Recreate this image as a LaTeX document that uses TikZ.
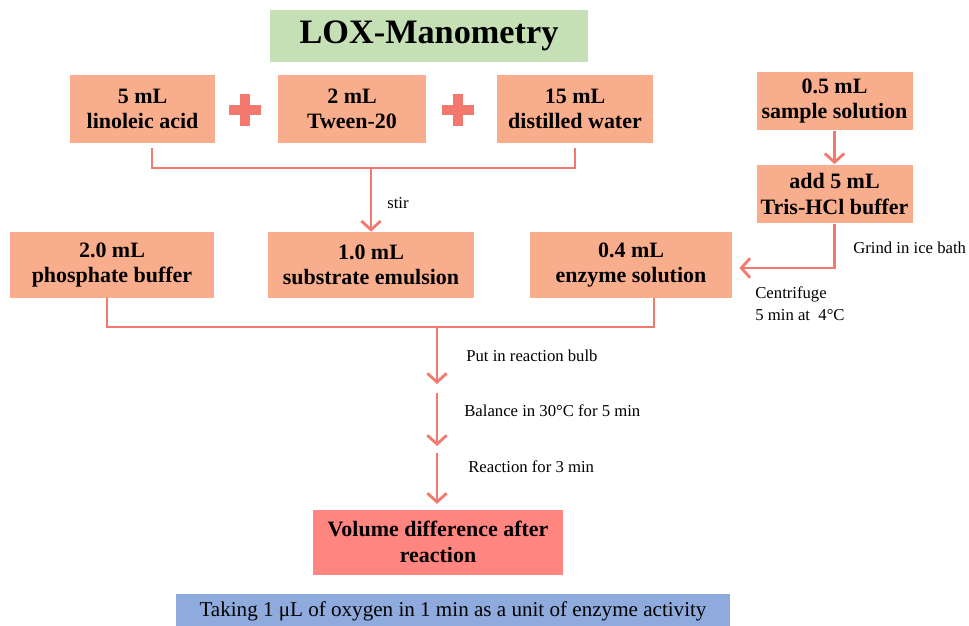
\documentclass[tikz,border=0pt]{standalone}
\usepackage{fontspec}
\setmainfont{Liberation Serif}
\usetikzlibrary{arrows.meta}
\definecolor{boxfill}{RGB}{248,173,140}
\definecolor{flowline}{RGB}{243,121,110}
\definecolor{titlegreen}{RGB}{197,224,180}
\definecolor{resultred}{RGB}{255,134,128}
\definecolor{noteblue}{RGB}{143,170,220}

\begin{document}
\begin{tikzpicture}[x=0.02cm,y=-0.02cm,>={Straight Barb[length=5pt,width=11pt]},
	stepbox/.style={fill=boxfill,align=center,inner sep=0pt,font=\fontsize{12.5}{14.5}\selectfont\bfseries},
	flow/.style={draw=flowline,line width=1.6pt},
	steplabel/.style={anchor=west,inner sep=0pt,font=\fontsize{9.5}{13}\selectfont}]
		\useasboundingbox (0,0) rectangle (969,625);
		\clip (0,0) rectangle (969,625);
		%Titulo
		\node[fill=titlegreen,minimum width=6.36cm,minimum height=1.04cm,font=\fontsize{19.5}{22}\selectfont\bfseries] (title) at (429,36) {LOX-Manometry};
		%Sustrato
		\node[stepbox,minimum width=2.9cm,minimum height=1.36cm] (acid) at (142.5,109) {5 mL\\linoleic acid};
		\node[stepbox,minimum width=2.96cm,minimum height=1.36cm] (tween) at (352,109) {2 mL\\Tween-20};
		\node[stepbox,minimum width=3.12cm,minimum height=1.36cm] (water) at (575,109) {15 mL\\distilled water};
		\foreach \x in {245,458}
		{
		\fill[flowline] (\x-16,105) rectangle (\x+16,115);
		\fill[flowline] (\x-5,94) rectangle (\x+5,126);
		}
		%Enzima
		\node[stepbox,minimum width=3.12cm,minimum height=1.18cm] (sample) at (834.5,101) {0.5 mL\\sample solution};
		\node[stepbox,minimum width=3.12cm,minimum height=1.18cm] (tris) at (834.5,194) {add 5 mL\\Tris-HCl buffer};
		%Mezcla
		\node[stepbox,minimum width=4.08cm,minimum height=1.32cm] (phosphate) at (112,265) {2.0 mL\\phosphate buffer};
		\node[stepbox,minimum width=4.12cm,minimum height=1.32cm] (emulsion) at (371,265) {1.0 mL\\substrate emulsion};
		\node[stepbox,minimum width=4.04cm,minimum height=1.32cm] (enzyme) at (631,265) {0.4 mL\\enzyme solution};
		\node[stepbox,fill=resultred,minimum width=5cm,minimum height=1.3cm] (result) at (438,542) {Volume difference after\\reaction};
		\node[fill=noteblue,minimum width=11.08cm,minimum height=0.7cm,inner sep=0pt,font=\fontsize{12}{14}\selectfont] (unit) at (453,611) {Taking 1 μL of oxygen in 1 min as a unit of enzyme activity};
		%Flechas
		\coordinate (j1) at (371,168);
		\draw[flow] ([xshift=0.19cm,yshift=-0.1cm]acid.south) |- (j1) -| ([yshift=-0.1cm]water.south);
		\draw[flow,->] (j1) -- (emulsion.north);
		\node[steplabel] (stir) at (387,203) {stir};
		\draw[flow,->] (sample.south) -- (tris.north);
		\draw[flow,->] (tris.south) |- ([xshift=4pt,yshift=-0.06cm]enzyme.east);
		\node[steplabel] (grind) at (853,248) {Grind in ice bath};
		\node[steplabel,anchor=north west,align=left] (centrifuge) at (755,286) {Centrifuge\\5 min at\ \ 4°C};
		\coordinate (j2) at (437,327);
		\coordinate (p1) at (437,384);
		\coordinate (p2) at (437,393);
		\coordinate (p3) at (437,446);
		\coordinate (p4) at (437,453);
		\draw[flow] ([xshift=-0.1cm]phosphate.south) |- (j2) -| ([xshift=0.46cm]enzyme.south);
		\draw[flow,->] (j2) -- (p1);
		\node[steplabel] (bulb) at (466,356) {Put in reaction bulb};
		\draw[flow,->] (p2) -- (p3);
		\node[steplabel] (balance) at (464,411) {Balance in 30°C for 5 min};
		\draw[flow,->] (p4) -- ([yshift=3pt]p4 |- result.north);
		\node[steplabel] (react) at (468,467) {Reaction for 3 min};
\end{tikzpicture}
\end{document}
